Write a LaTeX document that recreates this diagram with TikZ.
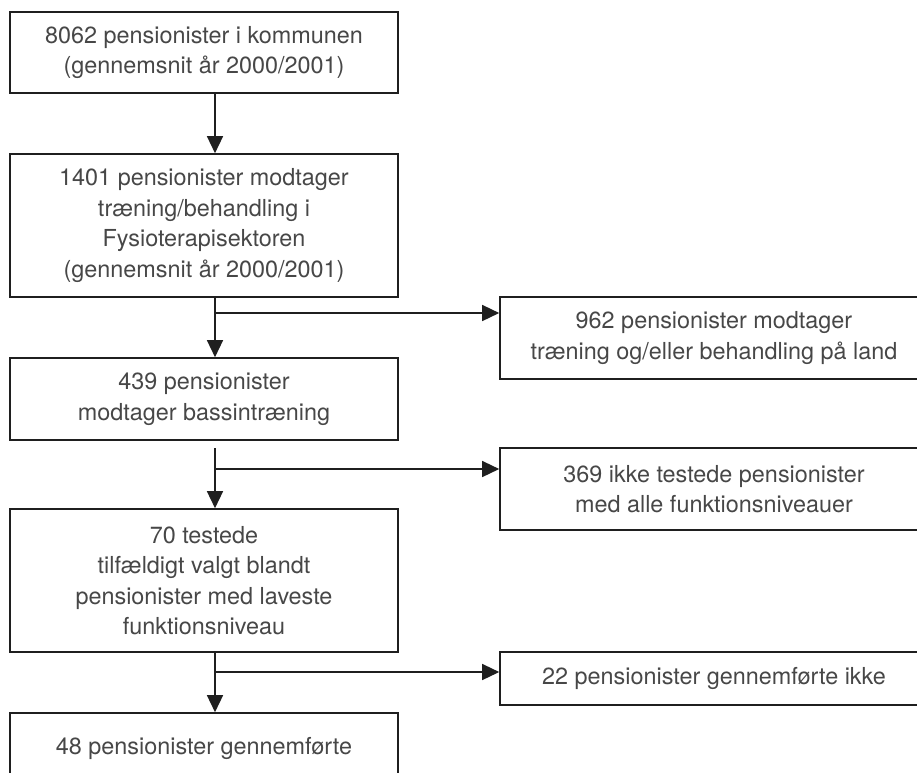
\documentclass[tikz,border=0pt]{standalone}
\usepackage{fontspec}
\setmainfont{TeX Gyre Heros}
\usetikzlibrary{arrows.meta}
\begin{document}
\begin{tikzpicture}[x=1pt,y=1pt,
  box/.style={draw=black!88, line width=1.6pt, inner sep=0pt, align=center,
    font=\fontsize{23.4}{30.5}\selectfont, text=black!72},
  lbox/.style={box, minimum width=388pt},
  rbox/.style={box, minimum width=428pt},
  conn/.style={draw=black!88, line width=1.4pt},
  arr/.style={conn, -{Triangle[length=17pt,width=16pt]}}]
\useasboundingbox (0,0) rectangle (917,-772);
% left column
\node[lbox, minimum height=81pt] (b1) at (204,-52.5)
  {8062 pensionister i kommunen\\(gennemsnit år 2000/2001)};
\node[lbox, minimum height=143pt] (b2) at (204,-225.5)
  {1401 pensionister modtager\\træning/behandling i\\Fysioterapisektoren\\(gennemsnit år 2000/2001)};
\node[lbox, minimum height=82pt] (b3) at (204,-399)
  {439 pensionister\\modtager bassintræning};
\node[lbox, minimum height=143pt] (b4) at (204,-580.5)
  {70 testede\\tilfældigt valgt blandt\\pensionister med laveste\\funktionsniveau};
\node[lbox, minimum height=70pt] (b5) at (204,-748)
  {48 pensionister gennemførte};
% right column
\node[rbox, minimum height=82pt] (r1) at (714,-338)
  {962 pensionister modtager\\træning og/eller behandling på land};
\node[rbox, minimum height=82pt] (r2) at (714,-489)
  {369 ikke testede pensionister\\med alle funktionsniveauer};
\node[rbox, minimum height=53pt] (r3) at (714,-678.5)
  {22 pensionister gennemførte ikke};
% spine and junctions
\coordinate (sp) at (215,0);
\coordinate (j1) at (215,-313);
\coordinate (s3) at (215,-448);
\coordinate (j2) at (215,-469);
\coordinate (j3) at (215,-672);
% connectors
\draw[arr] (b1.south -| sp) -- (b2.north -| sp);
\draw[arr] (b2.south -| sp) -- (b3.north -| sp);
\draw[arr] (j1) -- (j1 -| r1.west);
\draw[arr] (s3) -- (b4.north -| sp);
\draw[arr] (j2) -- (j2 -| r2.west);
\draw[arr] (b4.south -| sp) -- (b5.north -| sp);
\draw[arr] (j3) -- (j3 -| r3.west);
\end{tikzpicture}
\end{document}
